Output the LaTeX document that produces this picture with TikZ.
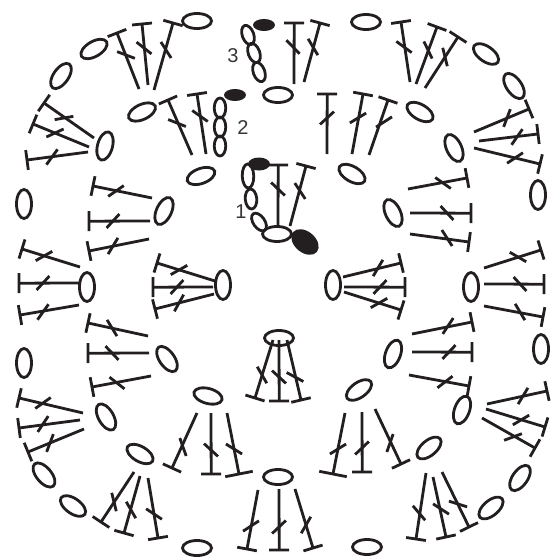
\documentclass[tikz,border=0pt]{standalone}
\usepackage{fontspec}
\setmainfont{Liberation Sans}
\usetikzlibrary{shapes.geometric, calc}
\definecolor{ink}{HTML}{231F20}

\newcommand{\dcstitch}[5][10pt]{
  \coordinate (base) at (#2);
  \coordinate (top) at (#3);
  \coordinate (tick) at (#4);
  \draw[stitch] (base) -- (top);
  \draw[stitch] ($(top)!#1!90:(base)$) -- ($(top)!#1!-90:(base)$);
  \draw[stitch] ($(tick)!9.5pt!#5:(top)$) -- ($(tick)!-9.5pt!#5:(top)$);
}

\begin{document}
\begin{tikzpicture}[
    x=1pt, y=-1pt,
    stitch/.style={draw=ink, line width=2.8pt},
    chain/.style={ellipse, draw=ink, line width=2.8pt, inner sep=0pt, minimum width=29pt, minimum height=15pt},
    link/.style={ellipse, draw=ink, line width=2.8pt, inner sep=0pt, minimum width=20pt, minimum height=11.5pt},
    slip/.style={ellipse, fill=ink, inner sep=0pt, minimum width=22pt, minimum height=12pt},
    num/.style={text=ink!90, font=\fontsize{20}{20}\selectfont, inner sep=0pt}
]
\useasboundingbox (0,0) rectangle (554,559);

% chains
\foreach \x/\y/\a [count=\i] in {197/21/0, 366/22/0, 94/49/30, 61/76/55, 105/146/75, 142/112/25,
    24/204/90, 87/287/90, 223/285/90, 164/211/65, 24/363/90, 167/359/-55,
    106/417/-60, 44/475/-50, 73/506/-35, 140/454/-30, 208/396/-15, 197/548/0,
    278/477/0, 393/354/70, 359/390/35, 429/448/40, 541/349/90, 462/410/70,
    520/478/55, 491/508/40, 367/547/0, 486/54/-35, 514/86/-55, 420/112/-30,
    454/148/-65, 538/195/90, 352/174/-30, 333/285/90, 471/287/90, 393/213/-65,
    201/176/20, 278/95/0, 279/338/0}
  \node[chain, rotate=\a] (chain\i) at (\x,\y) {};

% turning chains
\foreach \x/\y/\a [count=\i] in {248/35/-70, 254/53/-70, 259/72/-70, 220/108/90, 220/127/90,
    220/146/90, 251/199/-85, 259/222/-55}
  \node[link, rotate=\a] (link\i) at (\x,\y) {};
\node[link, rotate=-88, minimum width=24pt] (link9) at (248,176) {};
\node[chain] (ring) at (277,234) {};

% stitches: base / top / tick / tick angle
\foreach \xa/\ya/\xb/\yb/\xt/\yt/\s in {
    294/84/294.2/23/293/47/47, 304/82/320/23/313/47/47,
    278/227/278.2/165/278/189/47, 290/226/306/166/300/191/47,
    206/154/197/94/200/116/47, 192/155/168/100/177/123/47,
    327/154/327.2/94/327/118/-47, 352/154/363/94/358/118/-47, 369/155/388/100/384/122/-47,
    139/89/117/33/126/55/47, 148/85/142/24/144/48/47, 154/90/173/23/166/50/47,
    94/138/44/103/64/118/47, 89/147/33/124/55/133/47, 88/152/27/160/52/157/47,
    80/267/22/249/44/256/47, 79/283/19/283.2/43/283/47, 79/305/20/315/43/312/47,
    152/198/93/186/116/191/47, 150/221/89/221.2/113/221/47, 149/239/89/251/113/246/47,
    215/281/157/263/179/270/47, 213/287/153/287.2/177/287/47, 214/294/155/309/179/303/47,
    148/336/88/323/112/328/-47, 149/353/88/353.2/112/353/-47, 151/376/92/387/117/383/-47,
    83/413/19/398/43/403/47, 80/420/19/428/43/424/47, 84/429/28/452/50/443/47,
    134/472/101/522/114/502/47, 140/476/124/533/131/510/47, 148/478/158/538/154/514/47,
    197/413/172/468/183/447/47, 211/413/211.2/474/211/450/47,
    258/490/247/549/251/526/-47, 279/489/279.2/550/279/527/-47, 295/489/313/548/306/525/-47,
    273/340/255/398/262/375/47, 279/340/279.2/401/279/377/47, 287/340/301/400/295/377/47,
    412/334/472/322/448/326/47, 412/352/472/352.2/449/352/47, 409/375/469/386/445/382/47,
    487/404/547/391/523/396/47, 486/409/545/427/521/420/47, 482/418/535/448/513/437/47,
    362/412/362.2/472/362/448/-47, 375/409/401/464/390/443/-47,
    426/473/416/539/419/513/47, 433/477/446/537/441/509/47, 442/472/469/527/458/504/47,
    410/82/401/22/404/47/47, 416/84/437/27/428/50/47, 425/88/458/37/445/57/47,
    474/132/529/109/507/118/47, 479/141/538/134/517/137/47, 474/148/540/164/515/158/47,
    408/189/467/178/443/183/-47, 410/213/471/213.2/447/213/-47, 410/234/469/242/447/238/-47,
    343/277/401/263/378/268/47, 344/287/405/287.2/380/287/47, 344/292/401/310/379/303/47,
    484/268/541/250/518/257/-47, 484/284/544/284.2/520/284/-47, 484/306/543/317/520/312/-47}
  \dcstitch{\xa,\ya}{\xb,\yb}{\xt,\yt}{\s};
\dcstitch[14pt]{227,413}{239,474}{234,449}{47}
\dcstitch[14pt]{345,413}{333,474}{338,449}{-47}

% slip stitches
\node[slip] (slip3) at (264,25) {};
\node[slip] (slip2) at (235,95) {};
\node[slip, minimum height=13pt] (slip1) at (259,164) {};
\node[slip, rotate=-40, minimum width=31pt, minimum height=21pt] (start) at (305,242) {};

\node[num] (row3) at (233,56) {3};
\node[num] (row2) at (243,128) {2};
\node[num] (row1) at (241,212) {1};
\end{tikzpicture}
\end{document}
